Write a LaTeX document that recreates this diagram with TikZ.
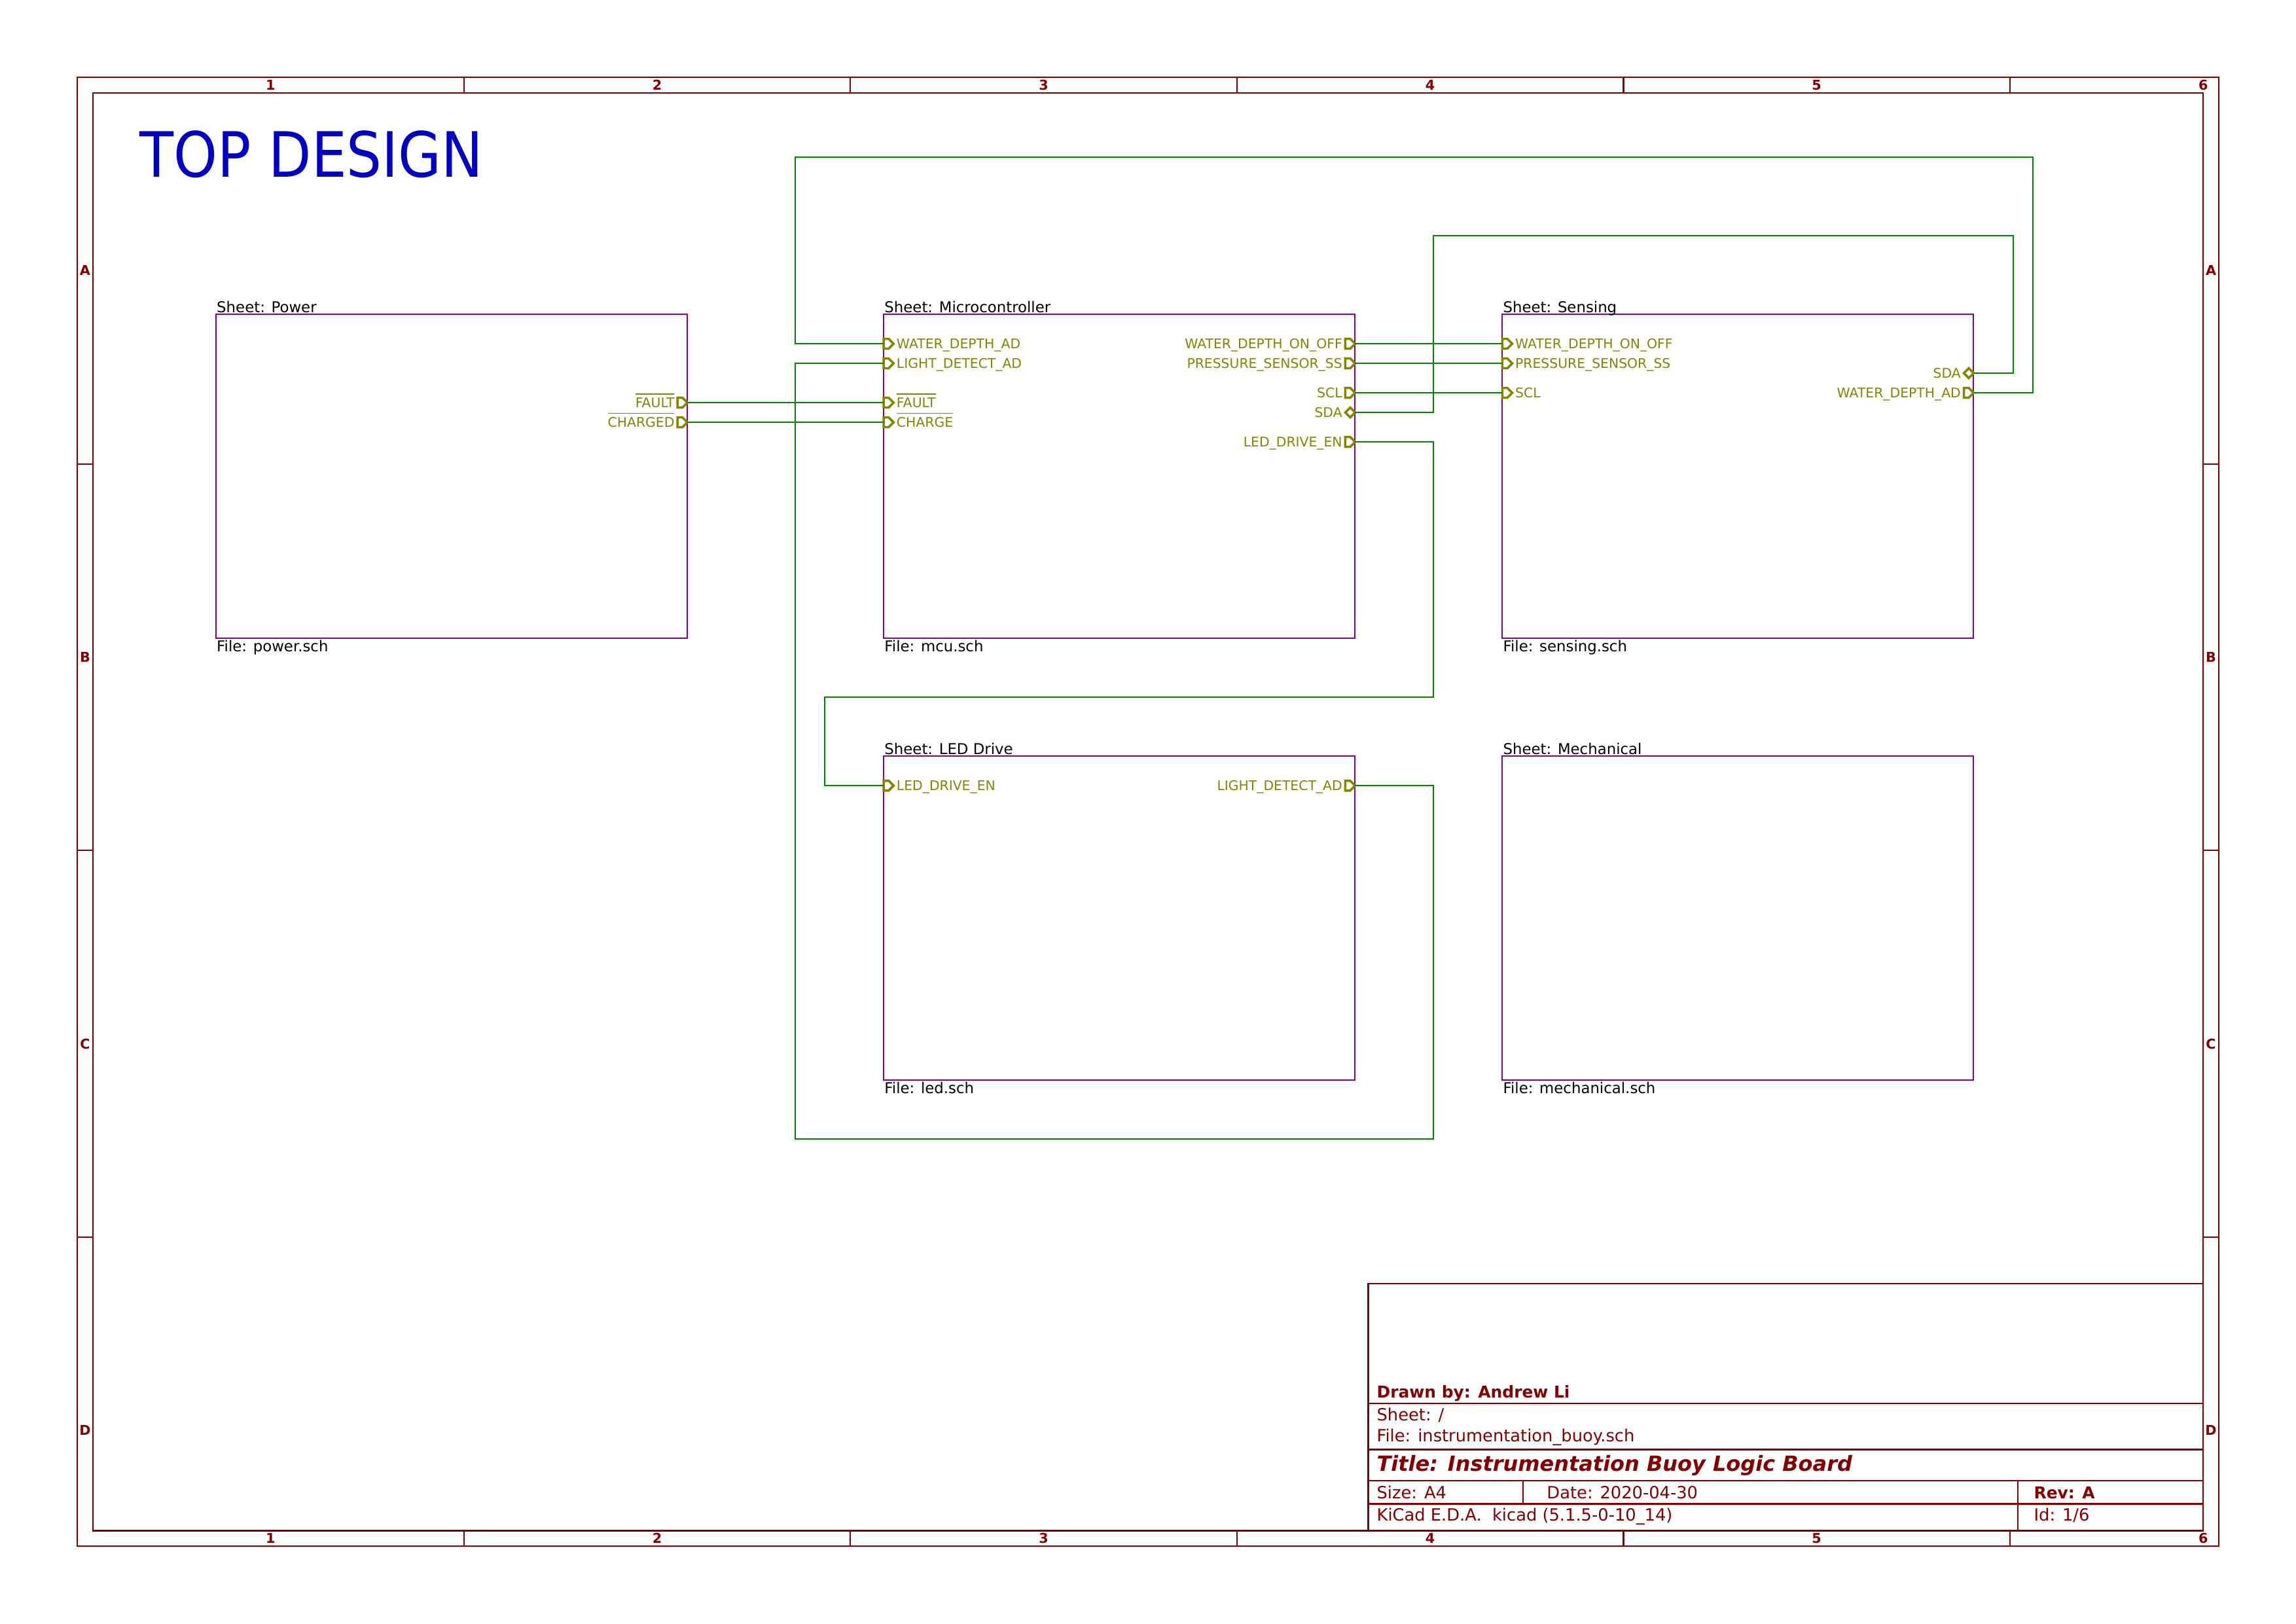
\documentclass[tikz,border=0pt]{standalone}
\usepackage{fontspec}
\setmainfont{DejaVu Sans}
\newfontfamily\notefont[FakeStretch=0.89]{DejaVu Sans}
\usetikzlibrary{shapes,positioning}
\definecolor{kframe}{RGB}{132,0,0}
\definecolor{ksheet}{RGB}{132,0,132}
\definecolor{kpin}{RGB}{132,132,0}
\definecolor{kwire}{RGB}{0,132,0}
\definecolor{knote}{RGB}{0,0,194}
\newcommand{\ovl}[1]{$\overline{\mbox{#1}}$}

\begin{document}
\begin{tikzpicture}[x=1mm,y=-1mm,line width=0.2mm,
    frmlbl/.style={text=kframe,font=\bfseries\fontsize{5}{5}\selectfont,inner sep=0,text height=1.27mm,text depth=0pt},
    tbtext/.style={text=kframe,font=\fontsize{6.2}{6.2}\selectfont,anchor=west,inner sep=0,text height=1.55mm,text depth=0pt},
    sheetbox/.style={draw=ksheet,line width=0.17mm,minimum width=60.96mm,minimum height=41.91mm,inner sep=0,outer sep=0,anchor=north west},
    sheetname/.style={font=\fontsize{5.5}{5.5}\selectfont,inner sep=0,anchor=base west,yshift=0.2mm},
    sheetfile/.style={font=\fontsize{5.5}{5.5}\selectfont,inner sep=0,anchor=north west,text height=1.4mm,text depth=0pt,yshift=-0.25mm},
    ipin/.style={shape=signal,signal to=east,draw=kpin,line width=0.3mm,minimum width=1.27mm,minimum height=1.27mm,inner sep=0,outer sep=0,anchor=west},
    opin/.style={ipin,anchor=east},
    bpin/.style={shape=diamond,draw=kpin,line width=0.3mm,minimum width=1.27mm,minimum height=1.27mm,inner sep=0,outer sep=0,anchor=east},
    pinlbl/.style={text=kpin,font=\fontsize{4.9}{4.9}\selectfont,inner sep=0,text height=1.26mm,text depth=0pt},
    wire/.style={draw=kwire,line width=0.17mm}]
    \useasboundingbox (0,0) rectangle (297,210);

    % page frame
    \draw[kframe] (10,10) rectangle (287,200);
    \draw[kframe] (12,12) rectangle (285,198);
    \foreach \x in {60,110,160,210,260} {
        \draw[kframe] (\x,10) -- (\x,12);
        \draw[kframe] (\x,198) -- (\x,200);
    }
    \foreach \y in {60,110,160} {
        \draw[kframe] (10,\y) -- (12,\y);
        \draw[kframe] (285,\y) -- (287,\y);
    }
    \foreach \i [evaluate=\i as \x using 50*\i-15] in {1,...,6} {
        \node[frmlbl] (ct\i) at (\x,11) {\i};
        \node[frmlbl] (cb\i) at (\x,199) {\i};
    }
    \foreach \r [count=\i, evaluate=\i as \y using 50*\i-15] in {A,B,C,D} {
        \node[frmlbl] (rl\r) at (11,\y) {\r};
        \node[frmlbl] (rr\r) at (286,\y) {\r};
    }

    % title block
    \draw[kframe] (177,166) rectangle (285,198);
    \draw[kframe] (177,181.5) -- (285,181.5);
    \draw[kframe] (177,187.5) -- (285,187.5);
    \draw[kframe] (177,191.5) -- (285,191.5);
    \draw[kframe] (177,194.5) -- (285,194.5);
    \draw[kframe] (197,191.5) -- (197,194.5);
    \draw[kframe] (261,191.5) -- (261,198);
    \node[tbtext,font=\bfseries\fontsize{6}{6}\selectfont] (tbDrawn) at (178,180) {Drawn by: Andrew Li};
    \node[tbtext] (tbSheet) at (178,183) {Sheet: /};
    \node[tbtext] (tbFile) at (178,185.7) {File: instrumentation\_buoy.sch};
    \node[tbtext,font=\bfseries\itshape\fontsize{7.7}{7.7}\selectfont,text height=2mm] (tbTitle) at (178,189.3) {Title: Instrumentation Buoy Logic Board};
    \node[tbtext] (tbSize) at (178,193.1) {Size: A4};
    \node[tbtext] (tbDate) at (200,193.1) {Date: 2020-04-30};
    \node[tbtext,font=\bfseries\fontsize{6}{6}\selectfont] (tbRev) at (263,193.1) {Rev: A};
    \node[tbtext] (tbTool) at (178,195.9) {KiCad E.D.A.\ \ kicad (5.1.5-0-10\_14)};
    \node[tbtext] (tbId) at (263,195.9) {Id: 1/6};

    \node[text=knote,font=\notefont\fontsize{23}{23}\selectfont,inner sep=0,anchor=base west] (topDesign) at (18,22.9) {TOP DESIGN};

    % schematic, in mils
    \begin{scope}[x=0.0254mm,y=-0.0254mm]
    \node[sheetbox] (pwr) at (1100,1600) {};
    \node[sheetname] (pwrName) at (pwr.north west) {Sheet: Power};
    \node[sheetfile] (pwrFile) at (pwr.south west) {File: power.sch};
    \node[sheetbox] (mcu) at (4500,1600) {};
    \node[sheetname] (mcuName) at (mcu.north west) {Sheet: Microcontroller};
    \node[sheetfile] (mcuFile) at (mcu.south west) {File: mcu.sch};
    \node[sheetbox] (sen) at (7650,1600) {};
    \node[sheetname] (senName) at (sen.north west) {Sheet: Sensing};
    \node[sheetfile] (senFile) at (sen.south west) {File: sensing.sch};
    \node[sheetbox] (led) at (4500,3850) {};
    \node[sheetname] (ledName) at (led.north west) {Sheet: LED Drive};
    \node[sheetfile] (ledFile) at (led.south west) {File: led.sch};
    \node[sheetbox] (mech) at (7650,3850) {};
    \node[sheetname] (mechName) at (mech.north west) {Sheet: Mechanical};
    \node[sheetfile] (mechFile) at (mech.south west) {File: mechanical.sch};

    % sheet pins
    \node[opin] (pwrFault) at (3500,2050) {};
    \node[pinlbl,left=0.3mm of pwrFault] (pwrFaultL) {\ovl{FAULT}};
    \node[opin] (pwrChg) at (3500,2150) {};
    \node[pinlbl,left=0.3mm of pwrChg] (pwrChgL) {\ovl{CHARGED}};

    \node[ipin] (mcuWdAd) at (4500,1750) {};
    \node[pinlbl,right=0.3mm of mcuWdAd] (mcuWdAdL) {WATER\_DEPTH\_AD};
    \node[ipin] (mcuLd) at (4500,1850) {};
    \node[pinlbl,right=0.3mm of mcuLd] (mcuLdL) {LIGHT\_DETECT\_AD};
    \node[ipin] (mcuFault) at (4500,2050) {};
    \node[pinlbl,right=0.3mm of mcuFault] (mcuFaultL) {\ovl{FAULT}};
    \node[ipin] (mcuChg) at (4500,2150) {};
    \node[pinlbl,right=0.3mm of mcuChg] (mcuChgL) {\ovl{CHARGE}};
    \node[opin] (mcuWdOn) at (6900,1750) {};
    \node[pinlbl,left=0.3mm of mcuWdOn] (mcuWdOnL) {WATER\_DEPTH\_ON\_OFF};
    \node[opin] (mcuPss) at (6900,1850) {};
    \node[pinlbl,left=0.3mm of mcuPss] (mcuPssL) {PRESSURE\_SENSOR\_SS};
    \node[opin] (mcuScl) at (6900,2000) {};
    \node[pinlbl,left=0.3mm of mcuScl] (mcuSclL) {SCL};
    \node[bpin] (mcuSda) at (6900,2100) {};
    \node[pinlbl,left=0.3mm of mcuSda] (mcuSdaL) {SDA};
    \node[opin] (mcuLed) at (6900,2250) {};
    \node[pinlbl,left=0.3mm of mcuLed] (mcuLedL) {LED\_DRIVE\_EN};

    \node[ipin] (senWdOn) at (7650,1750) {};
    \node[pinlbl,right=0.3mm of senWdOn] (senWdOnL) {WATER\_DEPTH\_ON\_OFF};
    \node[ipin] (senPss) at (7650,1850) {};
    \node[pinlbl,right=0.3mm of senPss] (senPssL) {PRESSURE\_SENSOR\_SS};
    \node[ipin] (senScl) at (7650,2000) {};
    \node[pinlbl,right=0.3mm of senScl] (senSclL) {SCL};
    \node[bpin] (senSda) at (10050,1900) {};
    \node[pinlbl,left=0.3mm of senSda] (senSdaL) {SDA};
    \node[opin] (senWdAd) at (10050,2000) {};
    \node[pinlbl,left=0.3mm of senWdAd] (senWdAdL) {WATER\_DEPTH\_AD};

    \node[ipin] (ledEn) at (4500,4000) {};
    \node[pinlbl,right=0.3mm of ledEn] (ledEnL) {LED\_DRIVE\_EN};
    \node[opin] (ledLd) at (6900,4000) {};
    \node[pinlbl,left=0.3mm of ledLd] (ledLdL) {LIGHT\_DETECT\_AD};

    % wire bends
    \coordinate (wdTopL) at (4050,800);
    \coordinate (wdTopR) at (10350,800);
    \coordinate (sdaTopL) at (7300,1200);
    \coordinate (sdaTopR) at (10250,1200);
    \coordinate (enMidR) at (7300,3550);
    \coordinate (enMidL) at (4200,3550);
    \coordinate (ldBotR) at (7300,5800);
    \coordinate (ldBotL) at (4050,5800);

    % wires
    \draw[wire] (pwrFault) -- (mcuFault);
    \draw[wire] (pwrChg) -- (mcuChg);
    \draw[wire] (mcuWdOn) -- (senWdOn);
    \draw[wire] (mcuPss) -- (senPss);
    \draw[wire] (mcuScl) -- (senScl);
    \draw[wire] (mcuWdAd) -| (wdTopL) -- (wdTopR) |- (senWdAd);
    \draw[wire] (mcuSda) -| (sdaTopL) -- (sdaTopR) |- (senSda);
    \draw[wire] (mcuLed) -| (enMidR) -- (enMidL) |- (ledEn);
    \draw[wire] (ledLd) -| (ldBotR) -- (ldBotL) |- (mcuLd);
    \end{scope}
\end{tikzpicture}
\end{document}
